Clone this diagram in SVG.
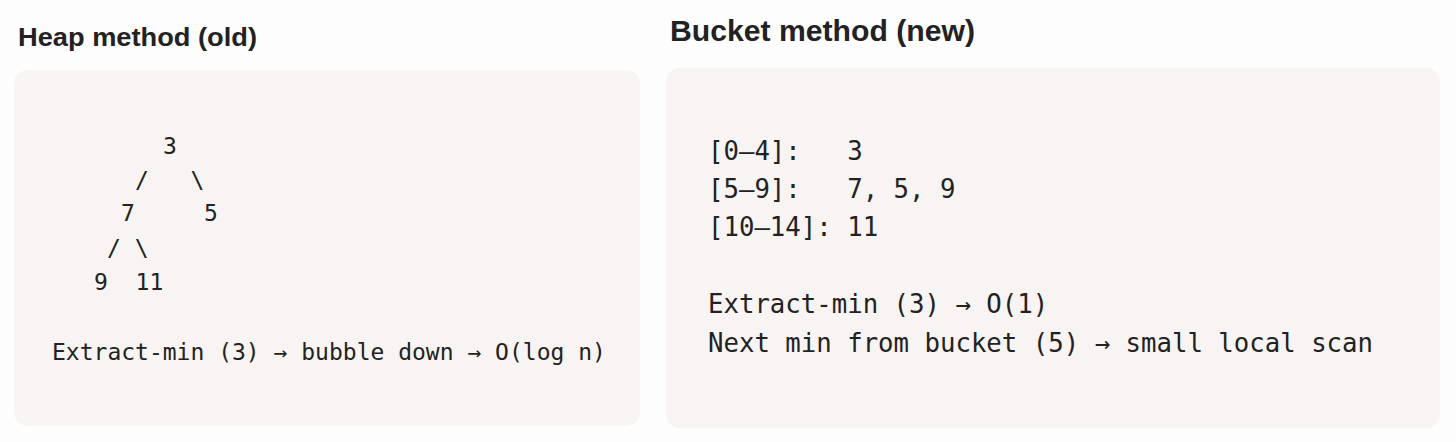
<svg xmlns="http://www.w3.org/2000/svg" width="1456" height="442" viewBox="0 0 1456 442">
<style>
.title{font-family:"Liberation Sans",Arial,sans-serif;font-weight:bold;fill:#222222}
.panel{fill:#f8f4f3}
.mono{font-family:"DejaVu Sans Mono","Liberation Mono",monospace;fill:#222222;white-space:pre}
.l{font-size:23px}
.r{font-size:25.7px}
</style>
<rect x="0" y="0" width="1456" height="442" fill="#fefdfe"/>
<g id="heap">
<text class="title" x="18" y="46" font-size="26" textLength="239" lengthAdjust="spacingAndGlyphs">Heap method (old)</text>
<rect class="panel" x="14" y="70" width="626" height="356" rx="14"/>
<text class="mono l" x="163" y="154">3</text>
<text class="mono l" x="135" y="188" xml:space="preserve">/   \</text>
<text class="mono l" x="121" y="221" xml:space="preserve">7     5</text>
<text class="mono l" x="107" y="256" xml:space="preserve">/ \</text>
<text class="mono l" x="94" y="290" xml:space="preserve">9  11</text>
<text class="mono l" x="52" y="360" xml:space="preserve">Extract-min (3) → bubble down → O(log n)</text>
</g>
<g id="bucket">
<text class="title" x="670" y="41" font-size="29" textLength="305" lengthAdjust="spacingAndGlyphs">Bucket method (new)</text>
<rect class="panel" x="666" y="68" width="774" height="360" rx="14"/>
<text class="mono r" x="708" y="160" xml:space="preserve">[0–4]:   3</text>
<text class="mono r" x="708" y="198" xml:space="preserve">[5–9]:   7, 5, 9</text>
<text class="mono r" x="708" y="236" xml:space="preserve">[10–14]: 11</text>
<text class="mono r" x="708" y="313" xml:space="preserve">Extract-min (3) → O(1)</text>
<text class="mono r" x="708" y="352" xml:space="preserve">Next min from bucket (5) → small local scan</text>
</g>
<g id="connectors"/>
</svg>
